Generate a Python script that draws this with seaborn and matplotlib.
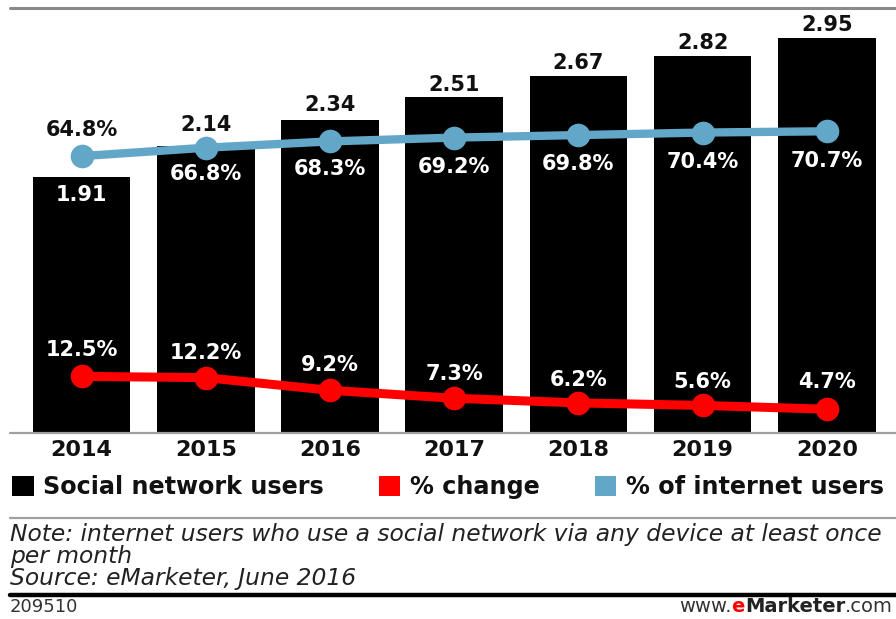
import matplotlib
matplotlib.use("Agg")
import matplotlib.pyplot as plt
from matplotlib.lines import Line2D
from matplotlib.patches import Patch
import numpy as np
import pandas as pd
import seaborn as sns

# ---------------- data ----------------
years = ["2014", "2015", "2016", "2017", "2018", "2019", "2020"]
social_users = [1.91, 2.14, 2.34, 2.51, 2.67, 2.82, 2.95]          # billions
pct_change = [12.5, 12.2, 9.2, 7.3, 6.2, 5.6, 4.7]                 # %
pct_internet = [64.8, 66.8, 68.3, 69.2, 69.8, 70.4, 70.7]          # %
bar_labels = ["1.91", "2.14", "2.34", "2.51", "2.67", "2.82", "2.95"]
change_labels = ["12.5%", "12.2%", "9.2%", "7.3%", "6.2%", "5.6%", "4.7%"]
internet_labels = ["64.8%", "66.8%", "68.3%", "69.2%", "69.8%", "70.4%", "70.7%"]
legend_labels = ["Social network users", "% change", "% of internet users"]
note_lines = ["Note: internet users who use a social network via any device at least once",
              "per month",
              "Source: eMarketer, June 2016"]
chart_id = "209510"

# ---------------- style ----------------
BLACK = "#000000"
RED = "#ff0000"
BLUE = "#62a6c8"
W, H = 896, 619

sns.set_theme(style="white")
plt.rcParams["font.family"] = ["DejaVu Sans"]

fig = plt.figure(figsize=(W / 100, H / 100), dpi=100)


def fx(px):
    return px / W


def fy(py):
    return 1 - py / H


ax = fig.add_axes([fx(19.4), fy(432), fx(889) - fx(19.4), fy(10) - fy(432)])

df = pd.DataFrame({"year": years, "users": social_users,
                   "change": pct_change, "internet": pct_internet})

sns.barplot(data=df, x="year", y="users", color=BLACK, saturation=1,
            width=0.785, ax=ax, edgecolor=BLACK, linewidth=0)
ax.set_ylim(0, 3.161)
ax.set_xlim(-0.5, len(years) - 0.5)

ax2 = ax.twinx()
sns.lineplot(data=df, x="year", y="internet", color=BLUE, lw=6, marker="o",
             markersize=17, markeredgewidth=0, ax=ax2, sort=False)
sns.lineplot(data=df, x="year", y="change", color=RED, lw=6.5, marker="o",
             markersize=17, markeredgewidth=0, ax=ax2, sort=False)
ax2.set_ylim(-0.71, 99.5)
ax2.set_xlim(-0.5, len(years) - 0.5)

for a in (ax, ax2):
    for s in a.spines.values():
        s.set_visible(False)
    a.set_ylabel("")
    a.set_xlabel("")
    a.set_yticks([])
    a.tick_params(axis="both", length=0)
ax2.set_xticks([])

ax.set_xticks(range(len(years)))
ax.set_xticklabels(years, fontsize=16, fontweight="bold", color="#111111")
ax.tick_params(axis="x", pad=6)

PX = 0.72  # points per pixel at 100 dpi
lab_kw = dict(fontsize=15, fontweight="bold", ha="center", va="center",
              textcoords="offset points")

# bar value labels (offsets in pixels: negative = inside bar)
bar_off = [-18, 21, 15, 12, 13, 13, 13]
for i, (v, t) in enumerate(zip(social_users, bar_labels)):
    col = "white" if bar_off[i] < 0 else "#111111"
    ax.annotate(t, (i, v), xytext=(0, bar_off[i] * PX), color=col, **lab_kw)

# % of internet users labels
int_off = [26, -26, -28, -29, -29, -29, -30]
for i, (v, t) in enumerate(zip(pct_internet, internet_labels)):
    col = "#111111" if int_off[i] > 0 else "white"
    ax2.annotate(t, (i, v), xytext=(0, int_off[i] * PX), color=col, **lab_kw)

# % change labels
chg_off = [26, 25, 25, 24, 23, 23, 27]
for i, (v, t) in enumerate(zip(pct_change, change_labels)):
    ax2.annotate(t, (i, v), xytext=(0, chg_off[i] * PX), color="white", **lab_kw)

# ---------------- rules ----------------
fig.add_artist(Line2D([fx(10), 1], [fy(8), fy(8)], color="#8a8a8a", lw=2.2,
                      transform=fig.transFigure))
fig.add_artist(Line2D([fx(10), 1], [fy(432.5), fy(432.5)], color="#a0a0a0", lw=1.6,
                      transform=fig.transFigure))
fig.add_artist(Line2D([fx(10), 1], [fy(518), fy(518)], color="#a0a0a0", lw=1.6,
                      transform=fig.transFigure))
fig.add_artist(Line2D([fx(10), 1], [fy(595), fy(595)], color="#000000", lw=3.2,
                      transform=fig.transFigure))

# ---------------- legend ----------------
handles = [Patch(facecolor=BLACK, edgecolor="none"),
           Patch(facecolor=RED, edgecolor="none"),
           Patch(facecolor=BLUE, edgecolor="none")]
leg = fig.legend(handles, legend_labels, loc="center left",
                 bbox_to_anchor=(fx(12), fy(487)), ncol=3, frameon=False,
                 prop={"size": 17.2, "weight": "bold"},
                 handlelength=0.9, handleheight=0.9, handletextpad=0.4,
                 columnspacing=2.3, borderaxespad=0, borderpad=0)
for t in leg.get_texts():
    t.set_color("#111111")

# ---------------- notes ----------------
for k, line in enumerate(note_lines):
    fig.text(fx(10), fy(535 + 21.5 * k), line, fontsize=16.8, style="italic",
             color="#222222", ha="left", va="center")

fig.text(fx(10), fy(607), chart_id, fontsize=13, color="#333333",
         ha="left", va="center")

# www.eMarketer.com, built right to left
fig.canvas.draw()
renderer = fig.canvas.get_renderer()
pieces = [(".com", "normal", "#333333"), ("Marketer", "bold", "#222222"),
          ("e", "bold", RED), ("www.", "normal", "#333333")]
xr = fx(893)
for txt, wgt, col in pieces:
    tt = fig.text(xr, fy(607), txt, fontsize=14, fontweight=wgt, color=col,
                  ha="right", va="center")
    bb = tt.get_window_extent(renderer=renderer)
    xr = bb.x0 / W

fig.savefig("out.png", dpi=100)
